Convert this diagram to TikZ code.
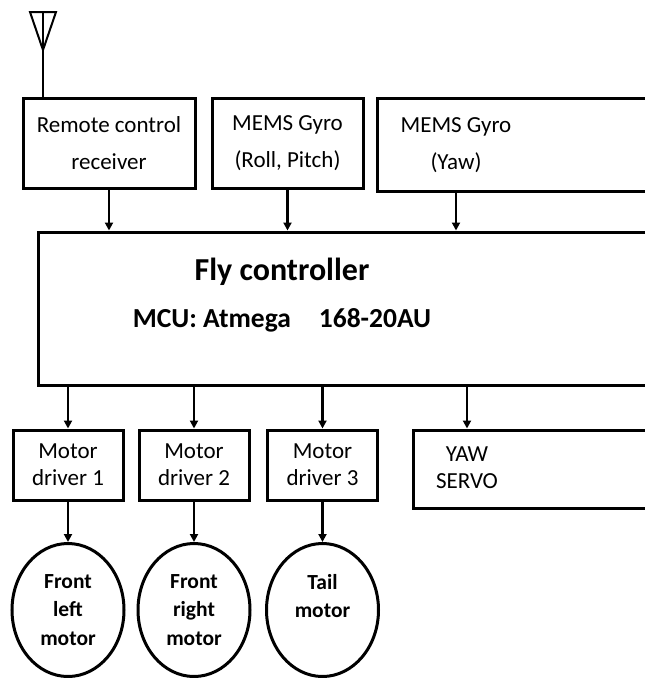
\documentclass[tikz,border=0pt]{standalone}
\usepackage{fontspec}
\setmainfont{Carlito}
\usetikzlibrary{arrows.meta,shapes.geometric}

\tikzset{
  blk/.style={draw, line width=3pt, inner sep=0pt, align=center},
  drv/.style={blk, minimum width=110, minimum height=70},
  mot/.style={draw, ellipse, line width=3pt, minimum width=112, minimum height=133,
    inner sep=0pt, align=center, font=\bfseries\fontsize{21.5}{28.5}\selectfont},
  txt/.style={inner sep=0pt, align=center, font=\fontsize{23}{37}\selectfont},
  smalltxt/.style={inner sep=0pt, align=center, font=\fontsize{23}{27}\selectfont},
  arr/.style={line width=2.6pt, -{Triangle[length=8pt,width=8pt]}}
}

\begin{document}
\begin{tikzpicture}[x=1pt,y=-1pt]
  \useasboundingbox (0,0) rectangle (645,678);
  \clip (0,0) rectangle (645,678);
  % inputs
  \node[blk, minimum width=172, minimum height=90, txt] (recv) at (109,143) {Remote control\\receiver};
  \node[blk, minimum width=151, minimum height=90, txt] (gyro1) at (287.5,143) {MEMS Gyro\\(Roll, Pitch)};
  \node[blk, minimum width=324, minimum height=93, anchor=west] (gyro2) at (376,144.5) {};
  \node[txt] (gyro2txt) at (456,145) {MEMS Gyro\\(Yaw)};
  % antenna
  \coordinate (ant) at (43,50);
  \draw[line width=2pt, line join=miter] (30,12) -- (56,12) -- (ant) -- cycle;
  \draw[line width=2pt] (43,12) -- (ant);
  \draw[line width=2pt] (ant) -- (ant |- recv.north);
  % controller
  \node[blk, minimum width=663, minimum height=153, anchor=west] (fly) at (37,308.5) {};
  \node[inner sep=0pt, font=\bfseries\fontsize{32}{36}\selectfont] (flytitle) at (282,272) {Fly controller};
  \node[inner sep=0pt, font=\bfseries\fontsize{27.5}{30}\selectfont] (mcu) at (282,320) {MCU: Atmega\hspace{28pt}168-20AU};
  \draw[arr] (recv) -- (recv |- fly.north);
  \draw[arr] (gyro1) -- (gyro1 |- fly.north);
  \draw[arr] (gyro2txt |- gyro2.south) -- (gyro2txt |- fly.north);
  % outputs
  \node[drv, smalltxt] (drv1) at (68,465) {Motor\\driver 1};
  \node[drv, smalltxt] (drv2) at (194,465) {Motor\\driver 2};
  \node[drv, smalltxt] (drv3) at (322.5,465) {Motor\\driver 3};
  \node[blk, minimum width=288, minimum height=78, anchor=west] (yaw) at (412,469) {};
  \node[smalltxt] (yawtxt) at (467,468) {YAW\\SERVO};
  \draw[arr] (drv1 |- fly.south) -- (drv1);
  \draw[arr] (drv2 |- fly.south) -- (drv2);
  \draw[arr] (drv3 |- fly.south) -- (drv3);
  \draw[arr] (yawtxt |- fly.south) -- (yawtxt |- yaw.north);
  % motors
  \node[mot] (mot1) at (68,610) {Front\\left\\motor};
  \node[mot] (mot2) at (194,610) {Front\\right\\motor};
  \node[mot] (mot3) at (322.5,610) {Tail\\motor\\~};
  \draw[arr] (drv1) -- (mot1);
  \draw[arr] (drv2) -- (mot2);
  \draw[arr] (drv3) -- (mot3);
\end{tikzpicture}
\end{document}
